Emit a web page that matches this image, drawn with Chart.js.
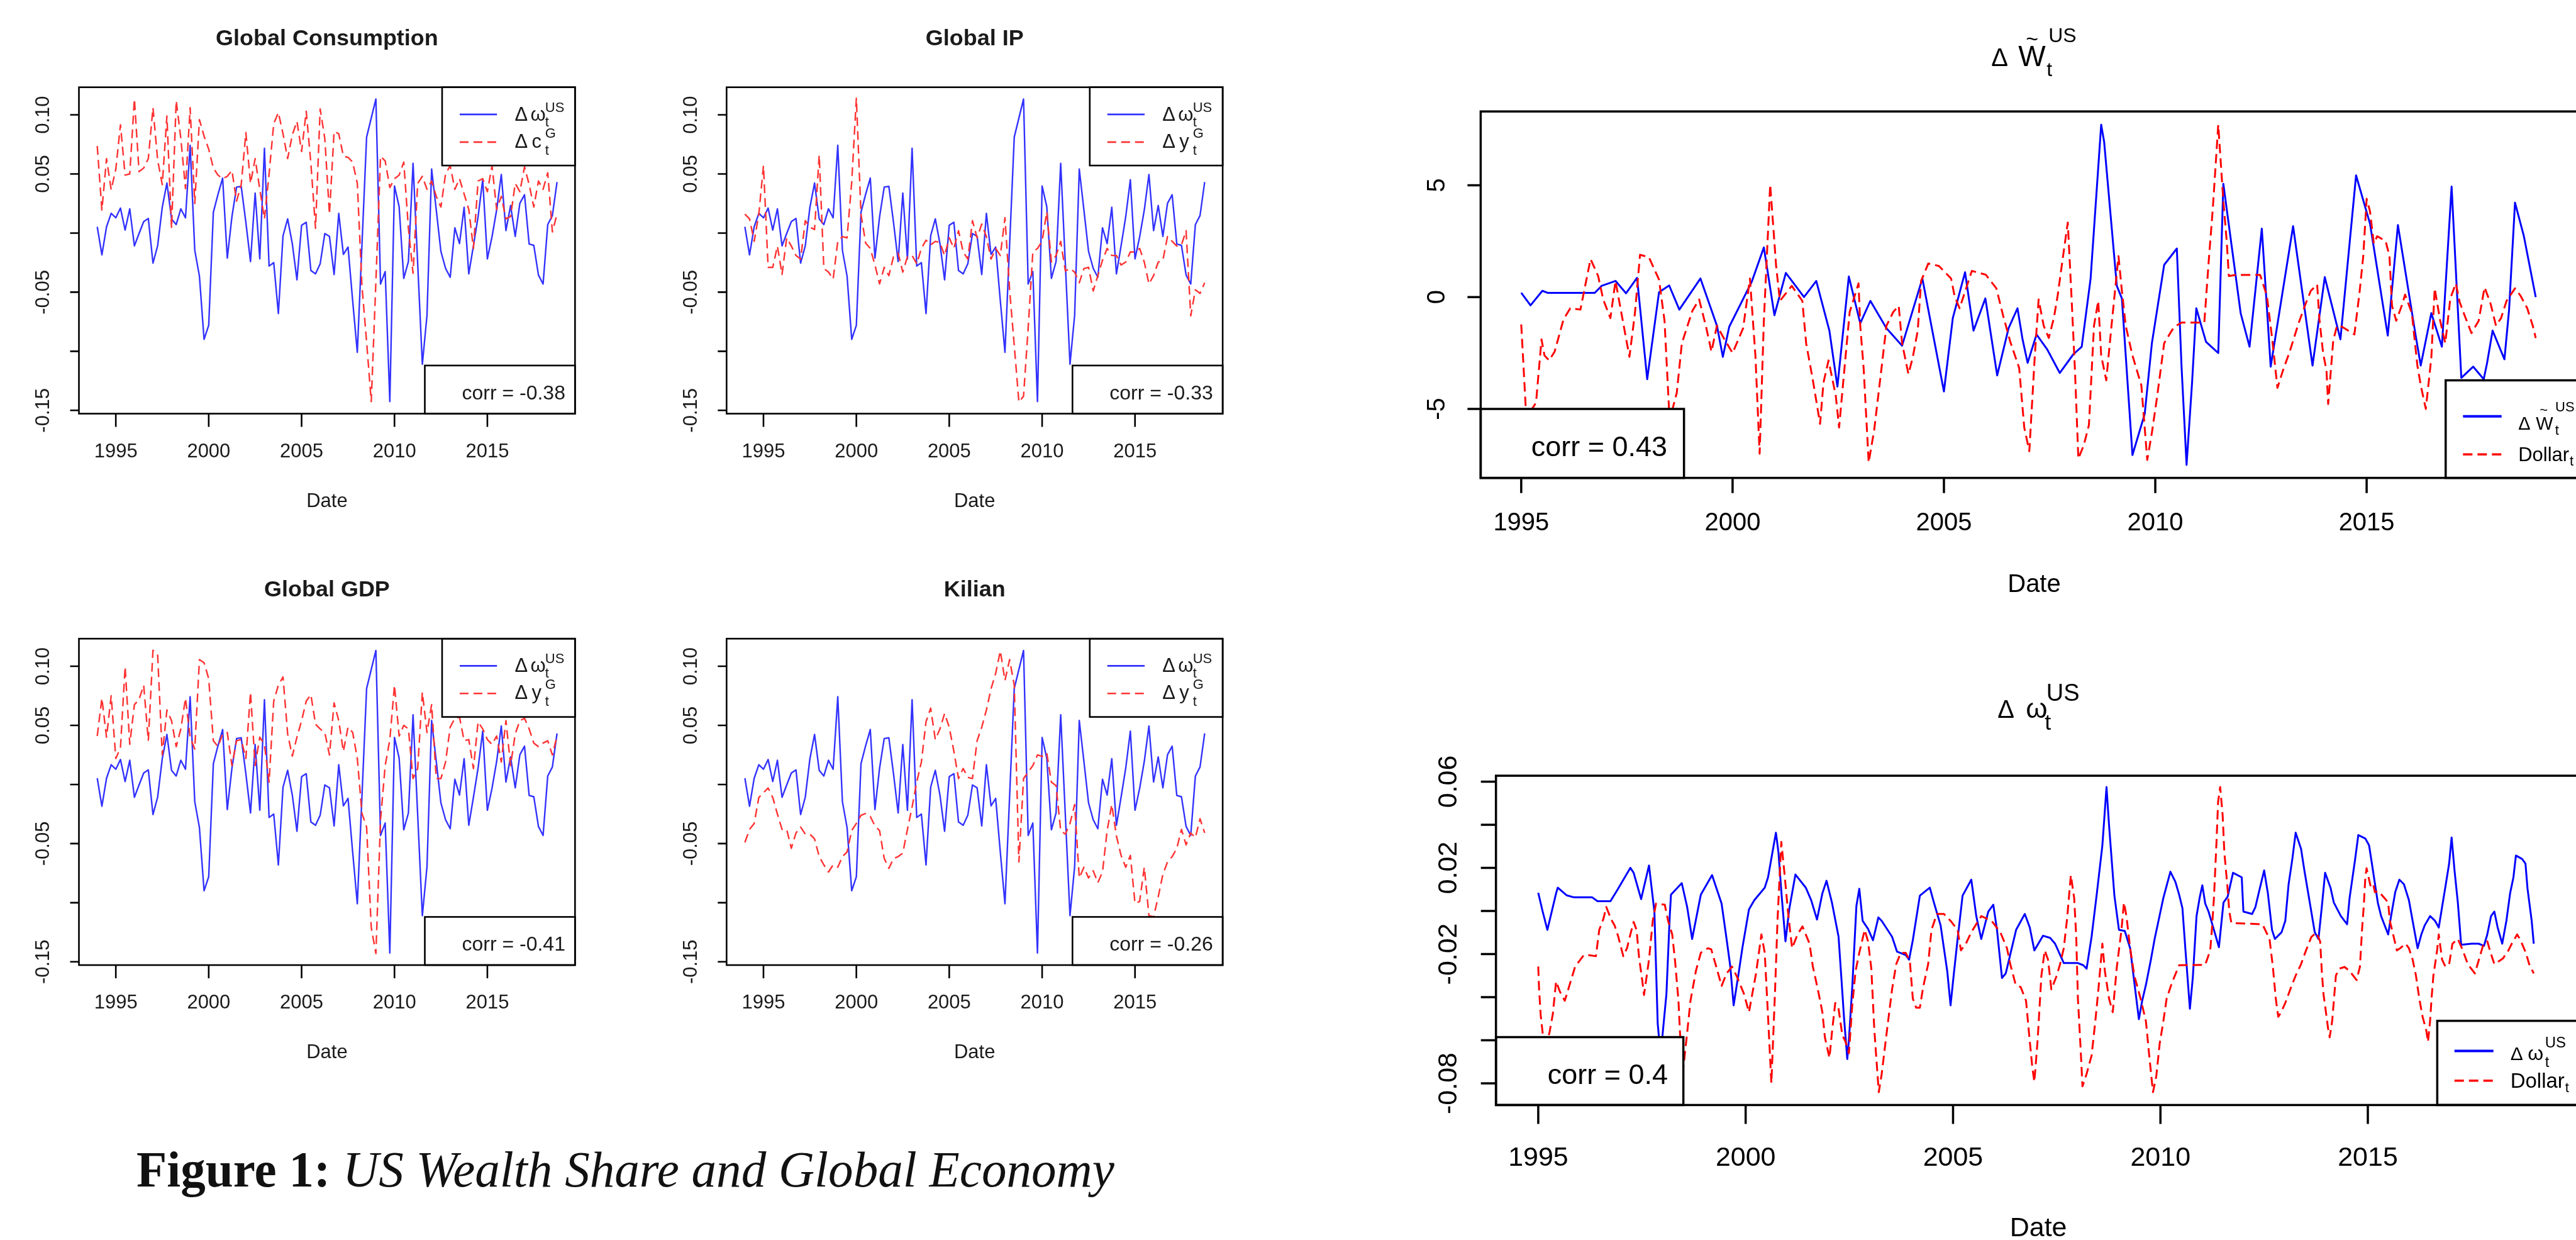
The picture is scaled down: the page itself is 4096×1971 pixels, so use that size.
<!DOCTYPE html>
<html>
<head>
<meta charset="utf-8">
<script src="https://cdn.jsdelivr.net/npm/chart.js@4.4.1/dist/chart.umd.min.js"></script>
<style>
  html, body { margin: 0; padding: 0; background: #fff; overflow: hidden; }
  body { width: 4096px; height: 1971px; position: relative; }
  canvas { position: absolute; }
  #caption { position: absolute; white-space: nowrap; font-family: "Liberation Serif", "DejaVu Serif", serif;
             color: #111; transform-origin: 0 0; line-height: 1; }
  #caption b { font-weight: bold; font-style: normal; }
  #caption i { font-style: italic; }
</style>
</head>
<body>
<div id="caption"><b>Figure 1:</b> <i>US Wealth Share and Global Economy</i></div>
<script>
const S = 4096 / 4099;
const FONT = '"Liberation Sans", Arial, Helvetica, sans-serif';

// ---- left column: quarterly, 1994Q1 - 2018Q4 ----
const quarterStart = 1994;
const wShare = [0.0053,-0.0184,0.0053,0.0167,0.0129,0.0211,0.0025,0.0205,-0.0108,-0.0004,
  0.0097,0.0123,-0.0254,-0.0108,0.0218,0.0423,0.0120,0.0072,0.0205,0.0129,
  0.0742,-0.0146,-0.0364,-0.0899,-0.0781,0.0176,0.0328,0.0465,-0.0212,0.0138,
  0.0389,0.0395,0.0091,-0.0241,0.0338,-0.0218,0.0717,-0.0279,-0.0250,-0.0681,
  -0.0023,0.0120,-0.0089,-0.0396,0.0066,0.0091,-0.0317,-0.0345,-0.0260,-0.0004,
  -0.0028,-0.0351,0.0167,-0.0180,-0.0118,-0.0573,-0.1009,-0.0099,0.0812,0.0973,
  0.1134,-0.0431,-0.0326,-0.1426,0.0398,0.0224,-0.0383,-0.0241,0.0590,-0.0260,
  -0.1110,-0.0696,0.0541,0.0195,-0.0156,-0.0298,-0.0374,0.0044,-0.0089,0.0218,
  -0.0345,-0.0108,0.0138,0.0451,-0.0218,-0.0032,0.0195,0.0495,0.0021,0.0233,
  -0.0028,0.0252,0.0324,-0.0093,-0.0104,-0.0355,-0.0431,0.0072,0.0148,0.0432];
const consG = [0.0736,0.0195,0.063,0.0366,0.054,0.0916,0.049,0.050,0.1134,0.052,
  0.055,0.063,0.106,0.062,0.041,0.099,0.004,0.112,0.080,0.0376,
  0.106,0.025,0.096,0.082,0.071,0.055,0.049,0.046,0.048,0.053,
  0.027,0.041,0.085,0.042,0.063,0.037,0.012,0.050,0.0925,0.102,
  0.084,0.063,0.083,0.0945,0.069,0.103,0.059,0.004,0.105,0.080,
  0.016,0.086,0.084,0.065,0.064,0.060,0.042,-0.045,-0.092,-0.1426,
  -0.041,0.065,0.061,0.0385,0.046,0.049,0.060,0.004,-0.034,0.042,
  0.048,0.037,0.044,0.031,0.022,0.050,0.057,0.037,0.046,0.033,
  0.020,-0.013,0.044,0.046,0.035,0.057,0.020,0.031,0.012,0.014,
  0.042,0.035,0.056,0.041,0.022,0.044,0.037,0.051,0.001,0.016];
const ipG = [0.016,0.012,-0.007,0.016,0.057,-0.029,-0.029,-0.011,-0.035,-0.004,
  -0.011,-0.019,-0.022,0.0105,0.005,0.003,0.066,-0.030,-0.033,-0.039,
  -0.007,-0.003,-0.004,0.043,0.114,0.016,-0.0085,-0.013,-0.027,-0.043,
  -0.029,-0.036,-0.020,-0.017,-0.033,-0.020,-0.019,-0.026,-0.013,-0.006,
  -0.010,-0.007,-0.008,-0.019,-0.004,-0.013,0.002,-0.016,-0.022,0.0105,
  -0.004,0.0076,-0.003,-0.022,-0.013,-0.019,0.013,-0.048,-0.095,-0.143,
  -0.138,-0.080,-0.016,-0.013,-0.007,0.018,-0.0245,-0.019,-0.007,-0.032,
  -0.030,-0.033,-0.042,-0.030,-0.029,-0.049,-0.036,-0.023,-0.013,-0.019,
  -0.019,-0.027,-0.0245,-0.016,-0.016,-0.013,-0.0245,-0.043,-0.036,-0.0245,
  -0.023,-0.003,-0.007,-0.011,-0.010,0.002,-0.070,-0.048,-0.051,-0.042];
const gdpG = [0.041,0.073,0.040,0.075,0.022,0.031,0.0997,0.034,0.0675,0.072,
  0.084,0.037,0.1135,0.110,0.025,0.063,0.054,0.032,0.047,0.073,
  0.040,0.030,0.1056,0.103,0.0895,0.037,0.032,0.0427,0.044,0.016,
  0.037,0.038,0.022,0.078,0.016,0.040,0.034,0.002,0.0705,0.084,
  0.091,0.0427,0.024,0.040,0.054,0.0705,0.076,0.051,0.047,0.044,
  0.025,0.069,0.054,0.028,0.0485,0.044,0.022,-0.0246,-0.036,-0.121,
  -0.143,-0.030,0.016,0.038,0.084,0.041,0.050,0.047,0.005,0.0135,
  0.078,0.044,0.0675,0.005,0.005,0.019,0.0485,0.056,0.057,0.037,
  0.038,0.0135,0.053,0.047,0.038,0.034,0.041,0.019,0.054,0.016,
  0.0427,0.054,0.056,0.047,0.035,0.032,0.035,0.037,0.025,0.041];
const kilianG = [-0.049,-0.038,-0.033,-0.011,-0.007,-0.003,-0.011,-0.025,-0.038,-0.038,
  -0.054,-0.041,-0.036,-0.042,-0.042,-0.046,-0.061,-0.068,-0.074,-0.068,
  -0.070,-0.061,-0.057,-0.039,-0.033,-0.026,-0.0246,-0.027,-0.035,-0.039,
  -0.0626,-0.071,-0.0626,-0.061,-0.058,-0.038,-0.019,0.002,0.019,0.053,
  0.0646,0.038,0.047,0.060,0.0485,0.028,0.005,0.0135,0.006,0.005,
  0.037,0.0485,0.063,0.081,0.094,0.113,0.088,0.1056,0.084,-0.0655,
  0.005,0.0105,0.016,0.025,0.0237,0.0266,0.002,-0.001,-0.039,-0.042,
  -0.033,-0.017,-0.079,-0.070,-0.079,-0.073,-0.083,-0.074,-0.039,-0.017,
  -0.0436,-0.060,-0.070,-0.060,-0.1006,-0.099,-0.070,-0.111,-0.112,-0.095,
  -0.076,-0.0655,-0.061,-0.054,-0.038,-0.051,-0.041,-0.045,-0.029,-0.041];

// ---- right column: [date, value] at the turning points of each curve ----
const wTilde = [[1995.00,0.19],[1995.22,-0.37],[1995.50,0.28],[1995.62,0.19],[1996.74,0.19],[1996.90,0.50],[1997.23,0.72],[1997.48,0.17],[1997.74,0.86],[1997.98,-3.67],
  [1998.26,0.22],[1998.50,0.52],[1998.74,-0.56],[1999.24,0.83],[1999.63,-1.28],[1999.77,-2.67],[1999.92,-1.33],[2000.45,0.67],[2000.74,2.22],[2000.99,-0.81],
  [2001.26,1.08],[2001.69,0.00],[2001.98,0.72],[2002.29,-1.50],[2002.48,-4.00],[2002.75,0.92],[2003.02,-1.17],[2003.26,-0.17],[2003.64,-1.39],[2004.01,-2.17],
  [2004.49,0.83],[2005.00,-4.22],[2005.21,-0.94],[2005.50,1.11],[2005.70,-1.50],[2005.98,-0.06],[2006.26,-3.50],[2006.53,-1.39],[2006.74,-0.50],[2006.86,-1.89],
  [2006.98,-2.94],[2007.19,-1.67],[2007.44,-2.33],[2007.74,-3.39],[2008.06,-2.56],[2008.26,-2.22],[2008.47,0.83],[2008.72,7.70],[2008.79,6.94],[2009.09,0.50],
  [2009.21,-0.06],[2009.46,-7.06],[2009.75,-5.22],[2009.92,-2.06],[2010.21,1.44],[2010.51,2.17],[2010.62,-3.06],[2010.74,-7.50],[2010.87,-3.83],[2010.97,-0.50],
  [2011.20,-2.00],[2011.49,-2.50],[2011.61,5.06],[2012.02,-0.72],[2012.23,-2.22],[2012.52,3.06],[2012.73,-3.11],[2013.26,3.17],[2013.72,-3.06],[2014.01,0.89],
  [2014.38,-1.89],[2014.75,5.44],[2015.08,3.28],[2015.50,-1.72],[2015.74,3.22],[2016.16,-1.72],[2016.28,-3.06],[2016.53,-0.72],[2016.78,-2.22],[2017.01,4.94],
  [2017.24,-3.61],[2017.52,-3.11],[2017.77,-3.67],[2017.85,-2.94],[2017.98,-1.50],[2018.26,-2.78],[2018.37,-0.56],[2018.51,4.22],[2018.72,2.72],[2019.00,0.00]];
const dollarTop = [[1995.0,-1.22],[1995.12,-5.4],[1995.35,-4.72],[1995.48,-1.89],[1995.55,-2.61],[1995.66,-2.83],[1995.79,-2.44],[1996.0,-1.0],[1996.16,-0.5],[1996.4,-0.56],
  [1996.64,1.7],[1996.82,0.94],[1996.94,-0.11],[1997.11,-0.94],[1997.23,0.72],[1997.56,-2.67],[1997.69,-0.72],[1997.81,1.89],[1998.02,1.78],[1998.26,0.78],
  [1998.39,-1.06],[1998.51,-5.5],[1998.68,-4.28],[1998.8,-2.06],[1999.05,-0.61],[1999.21,-0.11],[1999.38,-1.39],[1999.5,-2.44],[1999.63,-1.28],[1999.79,-1.83],
  [2000.0,-2.5],[2000.25,-1.39],[2000.41,0.83],[2000.54,-2.61],[2000.64,-7.0],[2000.74,-1.06],[2000.89,5.03],[2001.03,1.39],[2001.12,-0.17],[2001.4,0.5],
  [2001.65,-0.17],[2001.74,-2.06],[2001.9,-3.72],[2002.07,-5.67],[2002.15,-3.83],[2002.27,-2.83],[2002.44,-4.39],[2002.52,-5.83],[2002.64,-3.33],[2002.77,-0.67],
  [2002.98,0.61],[2003.02,-1.28],[2003.1,-3.17],[2003.22,-7.39],[2003.35,-5.94],[2003.51,-3.39],[2003.64,-1.28],[2003.8,-0.67],[2003.93,-0.39],[2004.01,-2.06],
  [2004.16,-3.44],[2004.26,-2.72],[2004.38,-1.5],[2004.46,0.72],[2004.63,1.5],[2004.88,1.39],[2005.17,0.83],[2005.25,0.06],[2005.37,-0.5],[2005.66,1.17],
  [2005.99,1.0],[2006.24,0.39],[2006.4,-0.83],[2006.57,-2.0],[2006.78,-3.17],[2006.9,-5.83],[2007.02,-6.89],[2007.15,-2.61],[2007.24,-0.11],[2007.36,-1.28],
  [2007.48,-1.83],[2007.6,-0.94],[2007.69,0.06],[2007.81,1.72],[2007.93,3.33],[2008.02,-0.06],[2008.1,-3.28],[2008.18,-7.22],[2008.31,-6.61],[2008.43,-5.72],
  [2008.55,-1.28],[2008.65,-0.17],[2008.72,-2.61],[2008.84,-3.72],[2008.97,-1.17],[2009.13,1.83],[2009.21,0.28],[2009.3,-1.28],[2009.46,-2.61],[2009.67,-3.94],
  [2009.81,-7.28],[2009.92,-6.06],[2010.04,-4.5],[2010.21,-2.06],[2010.37,-1.56],[2010.45,-1.33],[2010.62,-1.14],[2011.16,-1.14],[2011.26,1.5],[2011.36,3.94],
  [2011.49,7.7],[2011.61,4.28],[2011.69,2.5],[2011.74,0.94],[2011.9,0.99],[2012.48,0.99],[2012.64,0.06],[2012.77,-1.94],[2012.89,-4.06],[2013.02,-3.28],
  [2013.18,-2.44],[2013.39,-1.17],[2013.55,-0.33],[2013.68,0.28],[2013.83,0.56],[2013.88,-0.94],[2013.97,-2.5],[2014.05,-3.28],[2014.09,-4.78],[2014.21,-1.94],
  [2014.3,-1.28],[2014.42,-1.33],[2014.71,-1.67],[2014.83,0.17],[2014.92,1.83],[2015.0,4.39],[2015.08,3.83],[2015.17,2.39],[2015.25,2.72],[2015.45,2.5],
  [2015.54,1.83],[2015.6,-0.39],[2015.7,-1.06],[2015.83,-0.39],[2015.91,0.11],[2016.07,-0.72],[2016.2,-3.06],[2016.28,-3.94],[2016.4,-5.0],[2016.53,-2.72],
  [2016.61,0.39],[2016.74,-1.06],[2016.86,-2.06],[2016.98,-0.06],[2017.11,0.61],[2017.2,-0.22],[2017.32,-0.83],[2017.48,-1.61],[2017.65,-1.06],[2017.79,0.44],
  [2017.93,-0.28],[2018.06,-1.28],[2018.18,-0.94],[2018.31,-0.17],[2018.51,0.39],[2018.64,0.06],[2018.8,-0.5],[2018.93,-1.28],[2019.0,-1.83]];
const wShareR = [[1995.0,0.0084],[1995.1,0.0002],[1995.22,-0.0088],[1995.43,0.0082],[1995.47,0.0108],[1995.68,0.0073],[1995.86,0.0063],[1996.3,0.0063],[1996.43,0.0045],[1996.74,0.0045],
  [1996.89,0.0092],[1997.22,0.020],[1997.3,0.0177],[1997.48,0.0055],[1997.67,0.0211],[1997.8,-0.0003],[1997.88,-0.0523],[1997.95,-0.067],[1998.09,-0.0385],[1998.17,-0.0024],
  [1998.2,0.0076],[1998.46,0.0129],[1998.59,0.0018],[1998.71,-0.013],[1998.92,0.0076],[1999.19,0.0166],[1999.42,0.0034],[1999.54,-0.013],[1999.63,-0.0258],[1999.71,-0.0438],
  [1999.83,-0.029],[1999.92,-0.0173],[2000.08,0.0007],[2000.21,0.005],[2000.46,0.0108],[2000.54,0.0156],[2000.73,0.0363],[2000.79,0.0273],[2000.87,0.0066],[2000.96,-0.0141],
  [2001.05,0.0007],[2001.2,0.0169],[2001.45,0.0108],[2001.58,0.005],[2001.72,-0.004],[2001.85,0.0082],[2001.95,0.014],[2002.08,0.0039],[2002.24,-0.012],[2002.33,-0.0374],
  [2002.37,-0.0491],[2002.45,-0.0687],[2002.49,-0.0597],[2002.57,-0.0353],[2002.67,0.0023],[2002.74,0.0103],[2002.82,-0.0046],[2002.95,-0.0083],[2003.07,-0.0136],[2003.2,-0.003],
  [2003.28,-0.0046],[2003.53,-0.012],[2003.65,-0.0189],[2003.86,-0.0205],[2003.94,-0.0226],[2004.03,-0.0136],[2004.2,0.0071],[2004.44,0.0108],[2004.53,0.0045],[2004.7,-0.0067],
  [2004.78,-0.0173],[2004.86,-0.0279],[2004.94,-0.0438],[2005.02,-0.029],[2005.11,-0.013],[2005.23,0.0071],[2005.44,0.0145],[2005.56,-0.0024],[2005.68,-0.013],[2005.85,-0.0003],
  [2005.97,0.0029],[2006.06,-0.0088],[2006.18,-0.0311],[2006.27,-0.029],[2006.35,-0.0226],[2006.52,-0.0088],[2006.73,-0.0014],[2006.85,-0.0077],[2006.96,-0.0183],[2007.17,-0.0115],
  [2007.34,-0.0125],[2007.46,-0.0152],[2007.67,-0.0242],[2008.01,-0.0242],[2008.14,-0.0252],[2008.22,-0.0268],[2008.34,-0.012],[2008.47,0.0087],[2008.6,0.0304],[2008.7,0.0575],
  [2008.76,0.040],[2008.89,0.0071],[2009.0,-0.0088],[2009.14,-0.0093],[2009.27,-0.0173],[2009.35,-0.030],[2009.48,-0.0502],[2009.56,-0.0417],[2009.65,-0.0343],[2009.77,-0.0226],
  [2009.86,-0.013],[2010.07,0.006],[2010.24,0.0182],[2010.36,0.0135],[2010.45,0.0076],[2010.53,0.0013],[2010.61,-0.0199],[2010.71,-0.0454],[2010.78,-0.0311],[2010.87,-0.0024],
  [2010.95,0.0066],[2011.01,0.0119],[2011.08,0.0034],[2011.16,-0.0003],[2011.29,-0.0088],[2011.41,-0.0168],[2011.52,0.0039],[2011.62,0.0066],[2011.75,0.0177],[2011.96,0.0156],
  [2012.0,-0.0003],[2012.21,-0.0014],[2012.29,0.0018],[2012.38,0.0092],[2012.5,0.0188],[2012.59,0.0082],[2012.69,-0.0088],[2012.76,-0.013],[2012.92,-0.0099],[2013.01,-0.0046],
  [2013.09,0.0124],[2013.18,0.0241],[2013.26,0.0363],[2013.39,0.0288],[2013.47,0.0188],[2013.6,0.0039],[2013.72,-0.0099],[2013.81,-0.013],[2013.89,0.0018],[2013.97,0.0177],
  [2014.1,0.0108],[2014.18,0.0039],[2014.35,-0.0024],[2014.5,-0.0062],[2014.56,0.006],[2014.69,0.0235],[2014.77,0.0352],[2014.94,0.0336],[2015.03,0.0304],[2015.09,0.023],
  [2015.24,0.0039],[2015.32,-0.0024],[2015.49,-0.0109],[2015.56,-0.0024],[2015.66,0.0087],[2015.76,0.0145],[2015.87,0.0124],[2015.99,0.005],[2016.08,-0.0046],[2016.2,-0.0173],
  [2016.29,-0.0109],[2016.37,-0.0067],[2016.5,-0.0024],[2016.62,-0.0046],[2016.71,-0.0077],[2016.79,0.0018],[2016.88,0.0124],[2016.96,0.022],[2017.02,0.0341],[2017.09,0.0188],
  [2017.17,0.0039],[2017.25,-0.0157],[2017.5,-0.0152],[2017.67,-0.0152],[2017.8,-0.0162],[2017.88,-0.0109],[2017.97,-0.0024],[2018.05,-0.0003],[2018.13,-0.0077],[2018.24,-0.0152],
  [2018.34,-0.0046],[2018.43,0.0082],[2018.51,0.0156],[2018.57,0.0257],[2018.72,0.0241],[2018.8,0.022],[2018.85,0.0103],[2018.95,-0.0046],[2019.0,-0.0152]];
const dollarBottom = [[1995.0,-0.0258],[1995.02,-0.0364],[1995.06,-0.0486],[1995.1,-0.0555],[1995.15,-0.065],[1995.27,-0.0565],[1995.35,-0.048],[1995.43,-0.0327],[1995.52,-0.0374],[1995.64,-0.0417],
  [1995.74,-0.0353],[1995.89,-0.0258],[1996.1,-0.0205],[1996.22,-0.0205],[1996.39,-0.021],[1996.47,-0.0088],[1996.57,-0.0037],[1996.64,0.0018],[1996.76,-0.004],[1996.84,-0.0067],
  [1996.93,-0.012],[1997.05,-0.021],[1997.14,-0.0173],[1997.22,-0.0109],[1997.3,-0.0051],[1997.37,-0.0088],[1997.43,-0.0215],[1997.51,-0.0327],[1997.55,-0.039],[1997.67,-0.0226],
  [1997.76,-0.0046],[1997.84,0.0034],[1998.05,0.0029],[1998.13,-0.0046],[1998.23,-0.0109],[1998.3,-0.0236],[1998.38,-0.0417],[1998.42,-0.0576],[1998.5,-0.0724],[1998.59,-0.0565],
  [1998.67,-0.0417],[1998.8,-0.0279],[1998.92,-0.0194],[1999.09,-0.0173],[1999.17,-0.0178],[1999.29,-0.0258],[1999.42,-0.0348],[1999.54,-0.029],[1999.67,-0.0258],[1999.79,-0.0305],
  [1999.96,-0.0385],[2000.08,-0.047],[2000.25,-0.029],[2000.38,-0.0109],[2000.46,-0.0194],[2000.54,-0.0491],[2000.62,-0.0799],[2000.71,-0.0364],[2000.77,-0.0035],[2000.86,0.032],
  [2000.94,0.0166],[2001.02,-0.0003],[2001.12,-0.0173],[2001.25,-0.0109],[2001.37,-0.0072],[2001.54,-0.0152],[2001.62,-0.0258],[2001.74,-0.0364],[2001.85,-0.047],[2001.91,-0.0586],
  [2002.02,-0.0682],[2002.08,-0.0565],[2002.16,-0.0427],[2002.24,-0.0454],[2002.33,-0.0576],[2002.41,-0.0608],[2002.49,-0.066],[2002.57,-0.0438],[2002.65,-0.0279],[2002.74,-0.0194],
  [2002.87,-0.0088],[2002.95,-0.0141],[2003.03,-0.0268],[2003.1,-0.0544],[2003.15,-0.0682],[2003.21,-0.0841],[2003.28,-0.0756],[2003.4,-0.0565],[2003.53,-0.0364],[2003.63,-0.0247],
  [2003.74,-0.0194],[2003.86,-0.0194],[2003.96,-0.0236],[2004.03,-0.0406],[2004.11,-0.0449],[2004.2,-0.0449],[2004.28,-0.0353],[2004.4,-0.0247],[2004.48,-0.0088],[2004.61,-0.0014],
  [2004.78,-0.0014],[2004.94,-0.0046],[2005.11,-0.0088],[2005.19,-0.0183],[2005.31,-0.0152],[2005.44,-0.0099],[2005.68,-0.0024],[2005.93,-0.0046],[2006.14,-0.0099],[2006.3,-0.0173],
  [2006.38,-0.0247],[2006.51,-0.0343],[2006.63,-0.0353],[2006.76,-0.0417],[2006.83,-0.0565],[2006.91,-0.0724],[2006.96,-0.0793],[2007.04,-0.0597],[2007.13,-0.030],[2007.21,-0.0183],
  [2007.29,-0.0226],[2007.37,-0.0364],[2007.5,-0.030],[2007.58,-0.0247],[2007.67,-0.0173],[2007.75,-0.0035],[2007.84,0.0166],[2007.92,0.006],[2007.97,-0.012],[2008.01,-0.0406],
  [2008.07,-0.0618],[2008.12,-0.0814],[2008.22,-0.0756],[2008.34,-0.0671],[2008.43,-0.0512],[2008.51,-0.0353],[2008.6,-0.0152],[2008.66,-0.0279],[2008.76,-0.0406],[2008.85,-0.047],
  [2008.95,-0.0258],[2009.06,-0.0088],[2009.12,0.0039],[2009.18,-0.0024],[2009.27,-0.0173],[2009.37,-0.030],[2009.52,-0.0406],[2009.65,-0.0512],[2009.73,-0.0671],[2009.82,-0.0841],
  [2009.9,-0.0767],[2009.98,-0.0618],[2010.07,-0.0512],[2010.15,-0.0406],[2010.28,-0.0332],[2010.45,-0.0252],[2011.08,-0.025],[2011.2,-0.0183],[2011.24,-0.0088],[2011.29,0.006],
  [2011.35,0.0315],[2011.39,0.0506],[2011.44,0.0575],[2011.5,0.0443],[2011.54,0.0273],[2011.61,0.0124],[2011.66,-0.0003],[2011.71,-0.0056],[2012.46,-0.0062],[2012.63,-0.013],
  [2012.71,-0.0258],[2012.78,-0.0406],[2012.84,-0.0491],[2012.91,-0.047],[2013.01,-0.0427],[2013.13,-0.0364],[2013.26,-0.030],[2013.39,-0.0247],[2013.51,-0.0183],[2013.64,-0.012],
  [2013.76,-0.0101],[2013.85,-0.0141],[2013.89,-0.0279],[2013.93,-0.0385],[2013.99,-0.047],[2014.04,-0.0544],[2014.08,-0.0586],[2014.14,-0.0512],[2014.23,-0.030],[2014.31,-0.0268],
  [2014.44,-0.026],[2014.56,-0.0279],[2014.73,-0.0321],[2014.81,-0.0258],[2014.86,-0.0088],[2014.9,0.0018],[2014.94,0.0156],[2014.97,0.0198],[2015.03,0.0145],[2015.07,0.0113],
  [2015.13,0.0124],[2015.17,0.0087],[2015.24,0.0092],[2015.3,0.0082],[2015.4,0.006],[2015.49,0.0039],[2015.53,-0.0046],[2015.61,-0.0109],[2015.7,-0.0183],[2015.78,-0.0173],
  [2015.91,-0.0152],[2015.99,-0.0173],[2016.08,-0.0226],[2016.16,-0.030],[2016.24,-0.0406],[2016.32,-0.0491],[2016.41,-0.0555],[2016.45,-0.0608],[2016.5,-0.0512],[2016.54,-0.0396],
  [2016.58,-0.030],[2016.63,-0.0236],[2016.67,-0.0183],[2016.71,-0.0109],[2016.79,-0.0226],[2016.87,-0.0258],[2016.96,-0.0247],[2017.04,-0.0152],[2017.17,-0.013],[2017.29,-0.0183],
  [2017.41,-0.0247],[2017.58,-0.029],[2017.71,-0.0205],[2017.79,-0.0152],[2017.88,-0.0141],[2017.96,-0.0194],[2018.05,-0.0247],[2018.18,-0.0231],[2018.26,-0.022],[2018.39,-0.0183],
  [2018.47,-0.0152],[2018.6,-0.0109],[2018.68,-0.0136],[2018.81,-0.0194],[2018.89,-0.0247],[2019.0,-0.029]];

// ---- tick labels ----
const yearTicks = [1995, 2000, 2005, 2010, 2015];
const leftYTicks = [0.10, 0.05, 0, -0.05, -0.10, -0.15];
const leftYLabels = ['0.10', '0.05', '', '-0.05', '', '-0.15'];
const topYTicks = [5, 0, -5];
const topYLabels = ['5', '0', '-5'];
const botYTicks = [0.06, 0.04, 0.02, 0, -0.02, -0.04, -0.06, -0.08];
const botYLabels = ['0.06', '', '0.02', '', '-0.02', '', '', '-0.08'];

const BLUE_L = 'rgb(50,50,255)', RED_L = 'rgb(255,50,50)';
const BLUE_R = '#0000ff', RED_R = '#ff0000';

const quarterly = arr => arr.map((v, i) => ({ x: quarterStart + i / 4, y: v }));
const pairs = arr => arr.map(p => ({ x: p[0], y: p[1] }));

// text helpers, all in reference pixels
function T(ctx, s, x, y, size, align, base, weight) {
  ctx.font = (weight || 'normal') + ' ' + size + 'px ' + FONT;
  ctx.textAlign = align || 'left';
  ctx.textBaseline = base || 'alphabetic';
  ctx.fillText(s, x, y);
  return ctx.measureText(s).width;
}
function TR(ctx, s, x, y, size) {
  ctx.save();
  ctx.translate(x, y);
  ctx.rotate(-Math.PI / 2);
  T(ctx, s, 0, 0, size, 'center', 'middle');
  ctx.restore();
}
function seg(ctx, x0, x1, y, color, lw, dash) {
  ctx.save();
  ctx.strokeStyle = color; ctx.lineWidth = lw; ctx.setLineDash(dash || []);
  ctx.beginPath(); ctx.moveTo(x0, y); ctx.lineTo(x1, y); ctx.stroke();
  ctx.restore();
}
function wbox(ctx, x0, y0, x1, y1, lw) {
  ctx.save();
  ctx.fillStyle = '#fff';
  ctx.fillRect(x0, y0, x1 - x0, y1 - y0);
  ctx.strokeStyle = '#000'; ctx.lineWidth = lw; ctx.setLineDash([]);
  ctx.strokeRect(x0, y0, x1 - x0, y1 - y0);
  ctx.restore();
}

function decor(chart, c) {
  const ctx = chart.ctx;
  const ox = c.canvas[0], oy = c.canvas[1];
  const xs = chart.scales.x, ys = chart.scales.y;
  const X = v => ox + xs.getPixelForValue(v) / S;
  const Y = v => oy + ys.getPixelForValue(v) / S;
  const [bl, bt, br, bb] = c.box;
  ctx.save();
  ctx.scale(S, S);
  ctx.translate(-ox, -oy);
  c.extras(ctx);
  ctx.strokeStyle = '#000';
  ctx.setLineDash([]);
  ctx.lineWidth = c.lw;
  ctx.strokeRect(bl, bt, br - bl, bb - bt);
  ctx.beginPath();
  yearTicks.forEach(t => { ctx.moveTo(X(t), bb); ctx.lineTo(X(t), bb + c.xTickLen); });
  c.yTicks.forEach(t => { ctx.moveTo(bl, Y(t)); ctx.lineTo(bl - c.yTickLen, Y(t)); });
  ctx.stroke();
  ctx.fillStyle = c.ink;
  yearTicks.forEach(t => T(ctx, String(t), X(t), c.xLabelY, c.tickSize, 'center', 'middle'));
  c.yTicks.forEach((t, i) => { if (c.yLabels[i]) TR(ctx, c.yLabels[i], c.yLabelX, Y(t), c.tickSize); });
  T(ctx, 'Date', (bl + br) / 2, c.dateY, c.dateSize, 'center', 'middle');
  c.title(ctx, (bl + br) / 2);
  ctx.restore();
}

function makePanel(c) {
  const cv = document.createElement('canvas');
  const [c0x, c0y, c1x, c1y] = c.canvas;
  cv.width = Math.round((c1x - c0x) * S);
  cv.height = Math.round((c1y - c0y) * S);
  cv.style.left = (c0x * S) + 'px';
  cv.style.top = (c0y * S) + 'px';
  cv.style.width = cv.width + 'px';
  cv.style.height = cv.height + 'px';
  document.body.appendChild(cv);
  const [bl, bt, br, bb] = c.box;
  // scale ranges calibrated from two known tick positions on each axis
  const [xa, pxa, xb, pxb] = c.xCal;
  const kx = (pxb - pxa) / (xb - xa);
  const [ya, pya, yb, pyb] = c.yCal;
  const ky = (pyb - pya) / (yb - ya);
  new Chart(cv, {
    type: 'line',
    data: {
      datasets: c.series.map(s => ({
        data: s.points, borderColor: s.color, borderWidth: s.width * S,
        borderDash: s.dash ? s.dash.map(d => d * S) : [], order: s.order,
        borderJoinStyle: 'round', borderCapStyle: 'butt',
        pointRadius: 0, tension: 0, fill: false
      }))
    },
    options: {
      responsive: false, animation: false, devicePixelRatio: 1, events: [],
      layout: { padding: { left: (bl - c0x) * S, top: (bt - c0y) * S,
                           right: cv.width - (br - c0x) * S, bottom: cv.height - (bb - c0y) * S } },
      scales: {
        x: { type: 'linear', display: false, bounds: 'data',
             min: xa + (bl - pxa) / kx, max: xa + (br - pxa) / kx },
        y: { type: 'linear', display: false, bounds: 'data',
             min: ya + (bb - pya) / ky, max: ya + (bt - pya) / ky }
      },
      plugins: { legend: { display: false }, tooltip: { enabled: false }, title: { display: false } }
    },
    plugins: [{ id: 'rDecor', afterDatasetsDraw(chart) { decor(chart, c); } }]
  });
}

function leftPanel(ox, oy, canvas, title, red, letter, corr) {
  return {
    canvas,
    box: [125.6 + ox, 138.8 + oy, 915 + ox, 658 + oy],
    xCal: [1995, 184.3 + ox, 2015, 775.5 + ox],
    yCal: [0.10, 182.7 + oy, -0.15, 652.8 + oy],
    series: [
      { points: quarterly(wShare), color: BLUE_L, width: 2.4, order: 1 },
      { points: quarterly(red), color: RED_L, width: 2.4, dash: [14, 8], order: 0 }
    ],
    lw: 2.6, ink: '#1a1a1a',
    xTickLen: 21, yTickLen: 14, xLabelY: 718.6 + oy, tickSize: 31,
    yTicks: leftYTicks, yLabels: leftYLabels, yLabelX: 70 + ox,
    dateY: 798 + oy, dateSize: 31,
    title(ctx, cx) { T(ctx, title, cx, 62 + oy, 36, 'center', 'middle', 'bold'); },
    extras(ctx) {
      wbox(ctx, 703.5 + ox, 138.8 + oy, 915 + ox, 263.3 + oy, 2.6);
      wbox(ctx, 676 + ox, 581.4 + oy, 915 + ox, 658 + oy, 2.6);
      seg(ctx, 731.5 + ox, 790.8 + ox, 182 + oy, BLUE_L, 2.6);
      seg(ctx, 731.5 + ox, 790.8 + ox, 226 + oy, RED_L, 2.6, [14, 8]);
      ctx.fillStyle = '#1a1a1a';
      T(ctx, 'Δ', 819 + ox, 192 + oy, 31);
      T(ctx, 'ω', 844 + ox, 192 + oy, 31);
      T(ctx, 'US', 867.5 + ox, 178 + oy, 22);
      T(ctx, 't', 867.5 + ox, 201 + oy, 22);
      T(ctx, 'Δ', 819 + ox, 235 + oy, 31);
      T(ctx, letter, 846 + ox, 235 + oy, 31);
      T(ctx, 'G', 867.5 + ox, 219 + oy, 22);
      T(ctx, 't', 867.5 + ox, 246 + oy, 22);
      T(ctx, corr, 899.6 + ox, 635 + oy, 32, 'right');
    }
  };
}

const panels = [
  leftPanel(0, 0, [0, 0, 1030, 860], 'Global Consumption', consG, 'c', 'corr = -0.38'),
  leftPanel(1030.8, 0, [1030, 0, 2200, 860], 'Global IP', ipG, 'y', 'corr = -0.33'),
  leftPanel(0, 877.5, [0, 860, 1030, 1740], 'Global GDP', gdpG, 'y', 'corr = -0.41'),
  leftPanel(1030.8, 877.5, [1030, 860, 2200, 1740], 'Kilian', kilianG, 'y', 'corr = -0.26'),
  {
    canvas: [2200, 0, 4099, 1000],
    box: [2356.5, 177.3, 4118, 760.2],
    xCal: [1995, 2421.7, 2015, 3781.3],
    yCal: [5, 294.6, -5, 650.5],
    series: [
      { points: pairs(wTilde), color: BLUE_R, width: 3, order: 1 },
      { points: pairs(dollarTop), color: RED_R, width: 3, dash: [15, 8], order: 0 }
    ],
    lw: 3.5, ink: '#000',
    xTickLen: 24, yTickLen: 21, xLabelY: 832.3, tickSize: 40,
    yTicks: topYTicks, yLabels: topYLabels, yLabelX: 2288,
    dateY: 931, dateSize: 40,
    title(ctx) {
      T(ctx, 'Δ', 3169, 105, 40);
      T(ctx, 'W', 3212, 105, 46);
      T(ctx, '~', 3234, 64, 34, 'center', 'middle');
      T(ctx, 'US', 3260, 67, 32);
      T(ctx, 't', 3257, 121, 32);
    },
    extras(ctx) {
      wbox(ctx, 3892, 605, 4118, 760.2, 3.5);
      wbox(ctx, 2356.5, 650.5, 2680, 760.2, 3.5);
      seg(ctx, 3919.6, 3981, 662.3, BLUE_R, 4);
      seg(ctx, 3919.6, 3981, 722.8, RED_R, 3.5, [15, 8]);
      ctx.fillStyle = '#000';
      T(ctx, 'Δ', 4007.5, 684, 29);
      T(ctx, 'W', 4035.6, 684, 29);
      T(ctx, '~', 4048, 653, 22, 'center', 'middle');
      T(ctx, 'US', 4066.4, 654.4, 22);
      T(ctx, 't', 4066, 692, 22);
      const w = T(ctx, 'Dollar', 4007.5, 734, 31);
      T(ctx, 't', 4008.5 + w, 741, 22);
      T(ctx, 'corr = 0.43', 2437, 725.7, 45);
    }
  },
  {
    canvas: [2200, 1000, 4099, 1972],
    box: [2380.8, 1234.2, 4107, 1758],
    xCal: [1995, 2448.4, 2015, 3774.3],
    yCal: [0.06, 1243.6, -0.08, 1723.5],
    series: [
      { points: pairs(wShareR), color: BLUE_R, width: 3, order: 1 },
      { points: pairs(dollarBottom), color: RED_R, width: 3, dash: [15, 8], order: 0 }
    ],
    lw: 3.5, ink: '#000',
    xTickLen: 30, yTickLen: 24, xLabelY: 1843, tickSize: 43,
    yTicks: botYTicks, yLabels: botYLabels, yLabelX: 2306,
    dateY: 1954.7, dateSize: 43,
    title(ctx) {
      T(ctx, 'Δ', 3179, 1142.6, 40);
      T(ctx, 'ω', 3224, 1142.6, 44);
      T(ctx, 'US', 3256.6, 1114.7, 38);
      T(ctx, 't', 3254, 1161, 36);
    },
    extras(ctx) {
      wbox(ctx, 3878.6, 1624.1, 4107, 1758, 3.5);
      wbox(ctx, 2380.8, 1650, 2679, 1758, 3.5);
      seg(ctx, 3906, 3968, 1672, BLUE_R, 4);
      seg(ctx, 3906, 3968, 1719.4, RED_R, 3.5, [15, 8]);
      ctx.fillStyle = '#000';
      T(ctx, 'Δ', 3995, 1686.6, 30);
      T(ctx, 'ω', 4022.7, 1686.6, 32);
      T(ctx, 'US', 4050, 1666.6, 24);
      T(ctx, 't', 4050, 1697.6, 24);
      const w = T(ctx, 'Dollar', 3995, 1731, 33);
      T(ctx, 't', 3996 + w, 1738, 22);
      T(ctx, 'corr = 0.4', 2463, 1724.5, 45);
    }
  }
];

panels.forEach(makePanel);

// caption under the left block
const cap = document.getElementById('caption');
function fitCaption() {
  cap.style.transform = 'none';
  cap.style.fontSize = (80 * S) + 'px';
  cap.style.left = (216.8 * S) + 'px';
  cap.style.top = (1821 * S) + 'px';
  const w = cap.getBoundingClientRect().width;
  cap.style.transform = 'scaleX(' + (1556 * S / w) + ')';
}
fitCaption();
if (document.fonts && document.fonts.ready) document.fonts.ready.then(fitCaption);
</script>
</body>
</html>
